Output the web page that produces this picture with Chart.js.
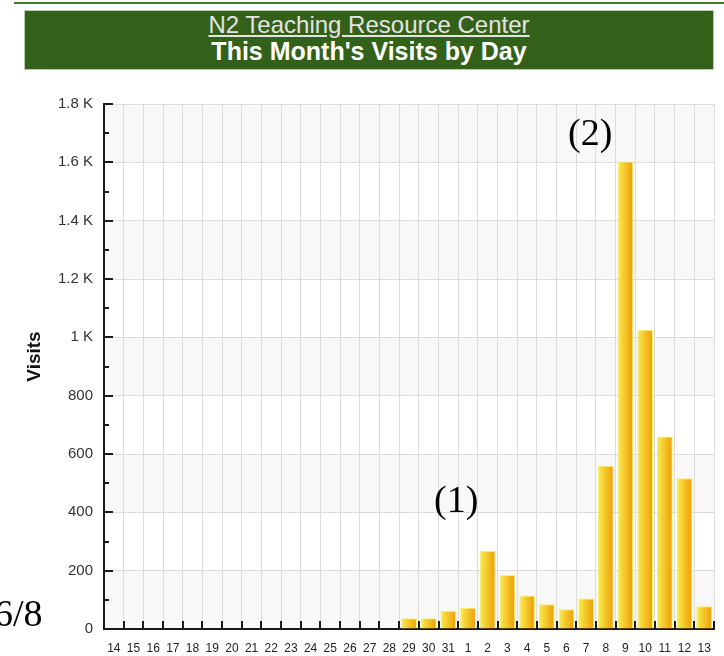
<!DOCTYPE html>
<html>
<head>
<meta charset="utf-8">
<script src="https://cdn.jsdelivr.net/npm/chart.js@4.4.1/dist/chart.umd.min.js"></script>
<style>
html,body{margin:0;padding:0;background:#fff;width:724px;height:656px;overflow:hidden;font-family:"Liberation Sans",Arial,sans-serif}
#wrap{position:relative;width:724px;height:656px}
#c{position:absolute;left:0;top:0}
#topline{position:absolute;left:14px;top:2px;width:710px;height:2px;background:#3f7a25}
#hdr{position:absolute;left:24px;top:10px;width:690px;height:60px;background:#33611a;border:1px solid #b7cfaa;box-sizing:border-box;text-align:center}
#t1{position:absolute;left:0;right:0;top:2px;font-size:24px;line-height:1;color:#e4e4e4;text-decoration:underline;white-space:nowrap}
#t2{position:absolute;left:0;right:0;top:28px;font-size:25px;line-height:1;font-weight:bold;color:#fff;white-space:nowrap}
.ann{position:absolute;font-family:"Liberation Serif","Times New Roman",serif;font-size:38px;line-height:1;color:#000;white-space:nowrap}
</style>
</head>
<body>
<div id="wrap">
  <canvas id="c" width="724" height="656"></canvas>
  <div id="topline"></div>
  <div id="hdr">
    <div id="t1">N2 Teaching Resource Center</div>
    <div id="t2">This Month's Visits by Day</div>
  </div>
  <div class="ann" style="left:568px;top:113px">(2)</div>
  <div class="ann" style="left:434px;top:480px">(1)</div>
  <div class="ann" style="left:-6px;top:594px">6/8</div>
</div>
<script>
// ---- data ----
const categories = ['14','15','16','17','18','19','20','21','22','23','24','25','26','27','28','29','30','31',
                    '1','2','3','4','5','6','7','8','9','10','11','12','13'];
const visits = [0,0,0,0,0,0,0,0,0,0,0,0,0,0,0,37,37,63,
                73,268,185,115,85,68,105,560,1603,1025,660,517,78];
const yTickValues = [0,200,400,600,800,1000,1200,1400,1600,1800];
const yMinorStep = 100;
const yMax = 1800;
const yTitle = 'Visits';

Chart.defaults.font.family = "'Liberation Sans', Arial, sans-serif";

function yLabel(v){
  if (!yTickValues.includes(v)) return '';
  return v >= 1000 ? (v/1000) + ' K' : String(v);
}

const BAR_PCT = 0.8;

const bandsPlugin = {
  id:'bands',
  beforeDraw(chart){
    const {ctx, chartArea:a, scales:{y}} = chart;
    ctx.save();
    ctx.fillStyle = '#ffffff';
    ctx.fillRect(a.left, a.top, a.right-a.left, a.bottom-a.top);
    for (let i = 0; i < yTickValues.length-1; i++){
      if (i % 2 === 0){
        const y0 = y.getPixelForValue(yTickValues[i]);
        const y1 = y.getPixelForValue(yTickValues[i+1]);
        ctx.fillStyle = '#f8f8f8';
        ctx.fillRect(a.left, y1, a.right-a.left, y0-y1);
      }
    }
    ctx.restore();
  }
};

const inwardTicks = {
  id:'inwardTicks',
  afterDraw(chart){
    const {ctx, chartArea:a, scales:{x,y}} = chart;
    ctx.save();
    ctx.strokeStyle = '#1a1a1a';
    ctx.lineWidth = 2;
    for (let v = 0; v <= yMax; v += yMinorStep){
      const py = Math.round(y.getPixelForValue(v));
      const len = yTickValues.includes(v) ? 9 : 5;
      ctx.beginPath(); ctx.moveTo(a.left, py); ctx.lineTo(a.left+len, py); ctx.stroke();
    }
    const n = categories.length;
    for (let i = 1; i <= n; i++){
      const px = Math.round(x.getPixelForValue(i-0.5));
      ctx.beginPath(); ctx.moveTo(px, a.bottom); ctx.lineTo(px, a.bottom-8); ctx.stroke();
    }
    // y-axis title
    ctx.translate(35, (a.top + a.bottom)/2 - 10);
    ctx.rotate(-Math.PI/2);
    ctx.fillStyle = '#111';
    ctx.font = "bold 19px 'Liberation Sans', Arial, sans-serif";
    ctx.textAlign = 'center';
    ctx.textBaseline = 'middle';
    ctx.fillText(yTitle, 0, 0);
    ctx.restore();
  }
};

new Chart(document.getElementById('c'), {
  type:'bar',
  data:{
    labels: categories,
    datasets:[{
      data: visits,
      barPercentage: BAR_PCT,
      categoryPercentage: 1,
      borderWidth: 1,
      borderColor: '#f6ef6a',
      backgroundColor(ctx){
        const ch = ctx.chart, xs = ch.scales.x;
        if (!ch.chartArea || !xs) return '#f4c430';
        const cx = xs.getPixelForValue(ctx.dataIndex);
        const w = xs.width / categories.length * BAR_PCT;
        const g = ch.ctx.createLinearGradient(cx - w/2, 0, cx + w/2, 0);
        g.addColorStop(0, '#f7ec55');
        g.addColorStop(0.45, '#f5c82a');
        g.addColorStop(1, '#ec9c08');
        return g;
      }
    }]
  },
  options:{
    responsive:false,
    animation:false,
    layout:{padding:{top:104, right:10, left:0, bottom:0}},
    plugins:{legend:{display:false}, tooltip:{enabled:false}},
    scales:{
      x:{
        grid:{color:'#dcdcdc', lineWidth:1, drawTicks:false, offset:true},
        border:{color:'#1a1a1a', width:2},
        ticks:{color:'#222', font:{size:12}, padding:12, maxRotation:0, autoSkip:false},
        afterFit(s){ s.height = 27; }
      },
      y:{
        min:0, max:yMax,
        ticks:{stepSize:yMinorStep, callback:yLabel, color:'#333', font:{size:15}, padding:11, autoSkip:false},
        grid:{color:(c)=> (c.tick && yTickValues.includes(c.tick.value)) ? '#dcdcdc' : 'rgba(0,0,0,0)', drawTicks:false},
        border:{color:'#1a1a1a', width:2},
        afterFit(s){ s.width = 104; }
      }
    }
  },
  plugins:[bandsPlugin, inwardTicks]
});
</script>
</body>
</html>
